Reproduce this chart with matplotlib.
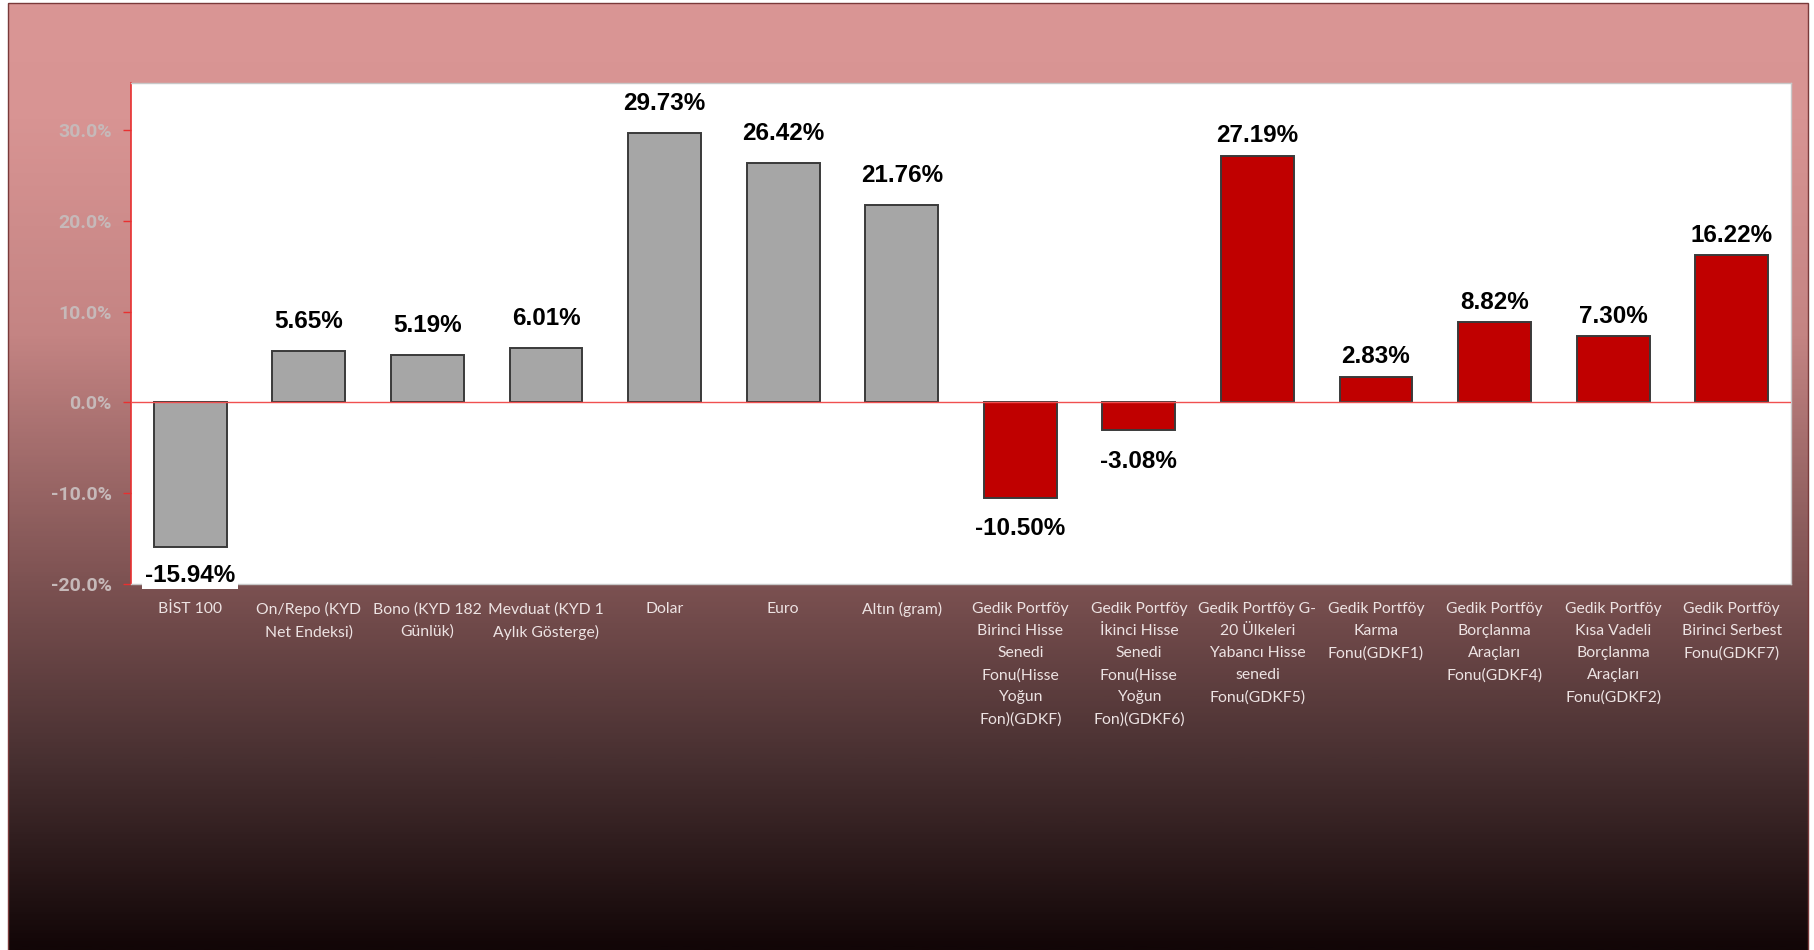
import numpy as np
import matplotlib
matplotlib.use("Agg")
import matplotlib.pyplot as plt
from matplotlib.colors import LinearSegmentedColormap
from matplotlib.patches import Rectangle

categories = [
    "BİST 100",
    "On/Repo (KYD\nNet Endeksi)",
    "Bono (KYD 182\nGünlük)",
    "Mevduat (KYD 1\nAylık Gösterge)",
    "Dolar",
    "Euro",
    "Altın (gram)",
    "Gedik Portföy\nBirinci Hisse\nSenedi\nFonu(Hisse\nYoğun\nFon)(GDKF)",
    "Gedik Portföy\nİkinci Hisse\nSenedi\nFonu(Hisse\nYoğun\nFon)(GDKF6)",
    "Gedik Portföy G-\n20 Ülkeleri\nYabancı Hisse\nsenedi\nFonu(GDKF5)",
    "Gedik Portföy\nKarma\nFonu(GDKF1)",
    "Gedik Portföy\nBorçlanma\nAraçları\nFonu(GDKF4)",
    "Gedik Portföy\nKısa Vadeli\nBorçlanma\nAraçları\nFonu(GDKF2)",
    "Gedik Portföy\nBirinci Serbest\nFonu(GDKF7)",
]
values = [-15.94, 5.65, 5.19, 6.01, 29.73, 26.42, 21.76,
          -10.50, -3.08, 27.19, 2.83, 8.82, 7.30, 16.22]
is_fund = [False] * 7 + [True] * 7
yticks = [-20, -10, 0, 10, 20, 30]

W, H = 1814, 950
fig = plt.figure(figsize=(W / 100, H / 100), dpi=100, facecolor="white")

# gradient background
bg = fig.add_axes([0, 0, 1, 1], zorder=-10)
bg.set_xlim(0, W)
bg.set_ylim(H, 0)
bg.axis("off")
cmap = LinearSegmentedColormap.from_list(
    "bg",
    [(0.0, (218/255, 150/255, 149/255)),
     (0.12, (216/255, 148/255, 147/255)),
     (0.35, (196/255, 132/255, 131/255)),
     (0.6, (128/255, 84/255, 84/255)),
     (0.8, (72/255, 48/255, 49/255)),
     (1.0, (18/255, 6/255, 7/255))])
grad = np.linspace(0, 1, 400).reshape(-1, 1)
bg.imshow(grad, cmap=cmap, aspect="auto", extent=(8, 1808, H, 3), zorder=0)
bg.add_patch(Rectangle((8, 3), 1800, H, fill=False, edgecolor="#7a3a3a", lw=1.0, zorder=1))

ax = fig.add_axes([131 / W, 1 - 584 / H, 1660 / W, 501 / H])
ax.set_facecolor("white")

x = np.arange(len(values))
colors = ["#C00000" if f else "#A6A6A6" for f in is_fund]
ax.bar(x, values, width=0.615, color=colors, edgecolor="#3a3a3a", linewidth=1.4, zorder=3)
ax.axhline(0, color="#F05050", lw=1.0, zorder=4)

for xi, v, f in zip(x, values, is_fund):
    if v >= 0:
        off = 6 if f else 13
    else:
        off = -14 if f else -12
    ax.annotate(f"{v:.2f}%", (xi, v), xytext=(0, off), textcoords="offset points",
                ha="center", va="bottom" if v >= 0 else "top",
                fontsize=17.5, fontweight="bold", family=["Liberation Sans", "DejaVu Sans"],
                color="black", zorder=6, annotation_clip=False,
                bbox=dict(facecolor="white", edgecolor="none", pad=2))

ax.set_xlim(-0.5, len(values) - 0.5)
ax.set_ylim(-20, 35.2)
ax.set_yticks(yticks)
ax.set_yticklabels([f"{t:.1f}%" for t in yticks], fontsize=14, fontweight="bold",
                   family=["Roboto", "DejaVu Sans"], color="#C6B9B9")
ax.set_xticks(x)
ax.set_xticklabels(categories, fontsize=11.3, family=["Lato", "DejaVu Sans"],
                   color="#EDE3E3", linespacing=1.72, va="top")
ax.tick_params(axis="x", length=0, pad=13)
ax.tick_params(axis="y", length=6, width=1, color="#E83030", direction="out", pad=8)

for s in ["top", "right", "bottom"]:
    ax.spines[s].set_color("#C8C8C8")
    ax.spines[s].set_linewidth(1.0)
ax.spines["left"].set_color("#E83030")
ax.spines["left"].set_linewidth(1.2)

fig.savefig("out.png", dpi=100, facecolor="white")
